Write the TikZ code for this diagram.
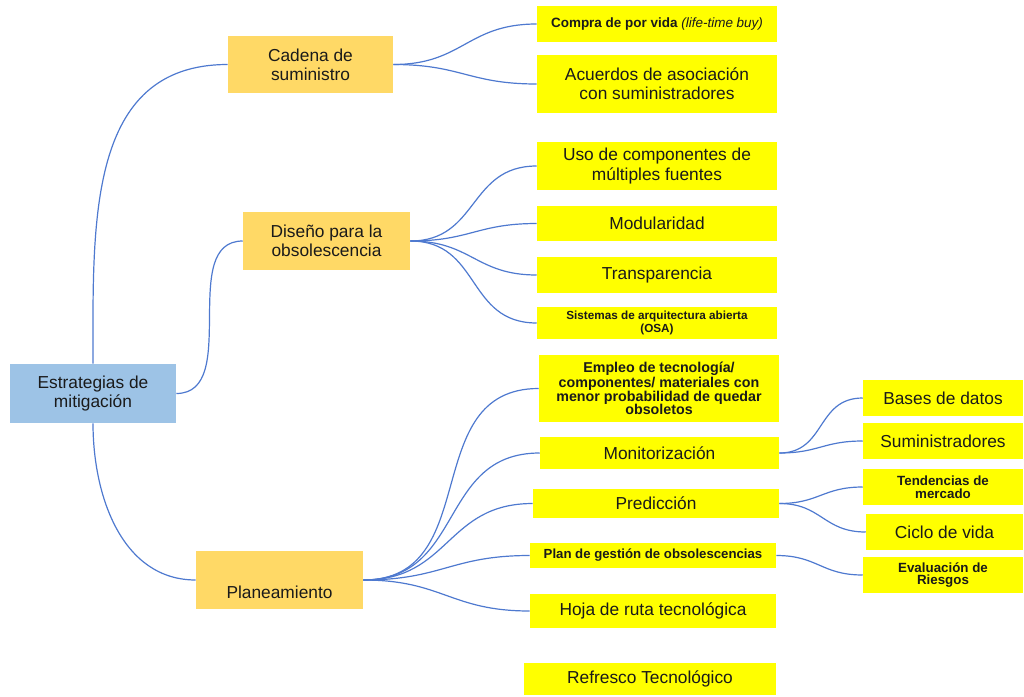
\documentclass[tikz,border=0pt]{standalone}
\usepackage{fontspec}
\setmainfont{Liberation Sans}
\definecolor{rootblue}{HTML}{9DC3E6}
\definecolor{midorange}{HTML}{FFD966}
\definecolor{leafyellow}{HTML}{FFFF00}
\definecolor{linkblue}{HTML}{4E79CF}
\definecolor{txt}{HTML}{1A1A1A}
\begin{document}
\begin{tikzpicture}[x=0.75pt,y=-0.75pt,
  box/.style={draw=none, align=center, inner sep=0pt, text=txt},
  rootbox/.style={box, fill=rootblue},
  midbox/.style={box, fill=midorange},
  leafbox/.style={box, fill=leafyellow},
  big/.style={font=\fontsize{13}{14.5}\selectfont},
  link/.style={draw=linkblue, line width=0.9pt},
  branch/.style={link, out=0, in=180, looseness=1.2},
]
\useasboundingbox (0,0) rectangle (1024,696);

% root and first level
\node[rootbox, big, minimum width=124.5pt, minimum height=44.25pt] (root) at (93,393.5) {Estrategias de\\mitigación};
\node[midbox, big, minimum width=123.75pt, minimum height=42.75pt] (cadena) at (310.5,64.5) {Cadena de\\suministro};
\node[midbox, big, minimum width=125.25pt, minimum height=43.5pt] (diseno) at (326.5,241) {Diseño para la\\obsolescencia};
\node[midbox, minimum width=125.25pt, minimum height=43.5pt] (plan) at (279.5,580) {};
\node[box, big] (plantext) at (279.5,592) {Planeamiento};

% supply chain
\node[leafbox, font=\fontsize{10.1}{12}\selectfont\bfseries, minimum width=180pt, minimum height=27pt] (compra) at (657,24) {Compra de por vida \textmd{\textit{(life-time buy)}}};
\node[leafbox, big, minimum width=180pt, minimum height=43.5pt] (acuerdos) at (657,84) {Acuerdos de asociación\\con suministradores};

% design for obsolescence
\node[leafbox, big, minimum width=180pt, minimum height=36pt] (uso) at (657,166) {Uso de componentes de\\múltiples fuentes};
\node[leafbox, big, minimum width=180pt, minimum height=26.25pt] (modular) at (657,223.5) {Modularidad};
\node[leafbox, big, minimum width=180pt, minimum height=27pt] (transp) at (657,275) {Transparencia};
\node[leafbox, font=\fontsize{8.8}{7.6}\selectfont\bfseries, minimum width=180pt, minimum height=24pt] (osa) at (657,323) {Sistemas de arquitectura abierta\\(OSA)};

% planning
\node[leafbox, font=\fontsize{10.7}{10}\selectfont\bfseries, minimum width=180pt, minimum height=50.25pt] (empleo) at (659,388.5) {Empleo de tecnología/\\componentes/ materiales con\\menor probabilidad de quedar\\obsoletos};
\node[leafbox, big, minimum width=179.25pt, minimum height=24pt] (monit) at (659.5,453) {Monitorización};
\node[leafbox, big, minimum width=184.5pt, minimum height=21.75pt] (predic) at (656,503.5) {Predicción};
\node[leafbox, font=\fontsize{9.9}{12}\selectfont\bfseries, minimum width=184.5pt, minimum height=18.75pt] (gestion) at (653,555.5) {Plan de gestión de obsolescencias};
\node[leafbox, big, minimum width=184.5pt, minimum height=25.5pt] (hoja) at (653,611) {Hoja de ruta tecnológica};
\node[leafbox, big, minimum width=189pt, minimum height=24pt] (refresco) at (650,679) {Refresco Tecnológico};

% third level
\node[leafbox, big, minimum width=120pt, minimum height=27pt] (bases) at (943,398) {Bases de datos};
\node[leafbox, big, minimum width=120pt, minimum height=27pt] (sumin) at (943,441) {Suministradores};
\node[leafbox, font=\fontsize{10}{9.4}\selectfont\bfseries, minimum width=120pt, minimum height=27pt] (tend) at (943,487) {Tendencias de\\mercado};
\node[leafbox, big, minimum width=117.75pt, minimum height=27pt] (ciclo) at (944.5,532) {Ciclo de vida};
\node[leafbox, font=\fontsize{10}{9.4}\selectfont\bfseries, minimum width=120pt, minimum height=27pt] (eval) at (943,575) {Evaluación de\\Riesgos};

% connectors from the root
\draw[link] (root.north) to[out=90, in=180, looseness=1.1] (cadena.west);
\draw[link] (root.east) to[out=0, in=180] (diseno.west);
\draw[link] (root.south) to[out=-90, in=180] (plan.west);

% second-level connectors
\foreach \t in {compra, acuerdos}
  \draw[branch] (cadena.east) to (\t.west);
\foreach \t in {uso, modular, transp, osa}
  \draw[branch] (diseno.east) to (\t.west);
\foreach \t in {empleo, monit, predic, gestion, hoja}
  \draw[branch] (plan.east) to (\t.west);

% third-level connectors
\foreach \t in {bases, sumin}
  \draw[branch] (monit.east) to (\t.west);
\foreach \t in {tend, ciclo}
  \draw[branch] (predic.east) to (\t.west);
\draw[branch] (gestion.east) to (eval.west);
\end{tikzpicture}
\end{document}
